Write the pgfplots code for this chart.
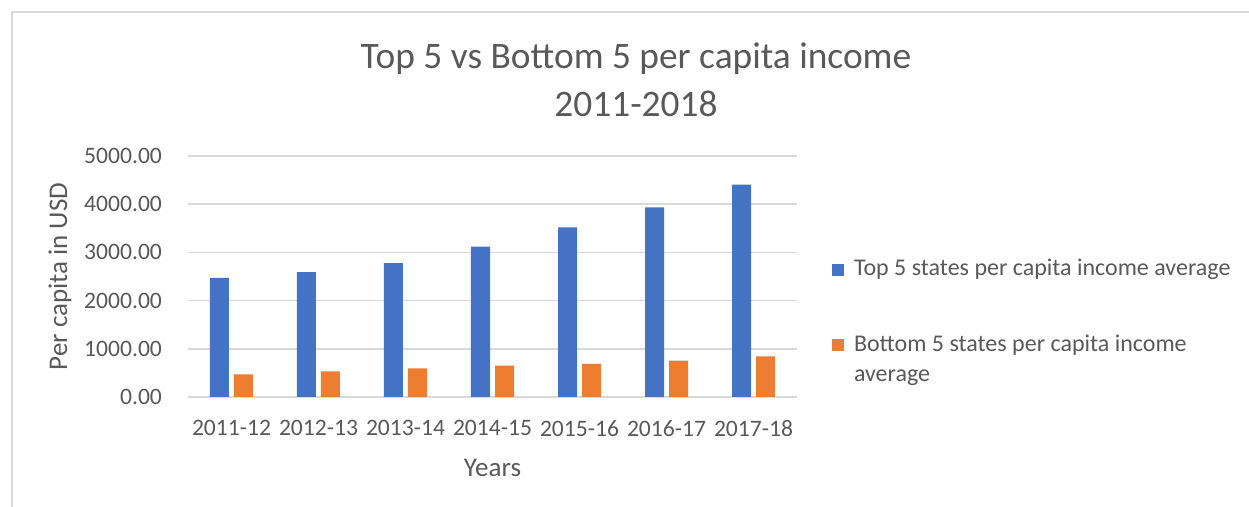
\documentclass[border=0pt]{standalone}
\usepackage{fontspec}
\setmainfont{Carlito}
\usepackage{pgfplots}
\pgfplotsset{compat=1.18}

\definecolor{xblue}{HTML}{4472C4}
\definecolor{xorange}{HTML}{ED7D31}
\definecolor{xtext}{HTML}{595959}
\definecolor{xgrid}{HTML}{D9D9D9}

\begin{document}
\begin{tikzpicture}
% canvas 1249 x 507 px, 1px = 0.5pt
\path[use as bounding box] (0,0) rectangle (624.5pt,-253.5pt);
\draw[xgrid, line width=1pt] (6pt,-253.5pt) -- (6pt,-6pt) -- (624.5pt,-6pt);

\node[text=xtext, font=\fontsize{18.7}{23}\selectfont, align=center] at (318pt,-40pt)
  {Top 5 vs Bottom 5 per capita income\\[1pt]2011-2018};

\begin{axis}[
    at={(94pt,-198.5pt)}, anchor=south west,
    scale only axis,
    width=304.5pt, height=120.5pt,
    ybar=2.5pt, bar width=9.5pt,
    xmin=-0.5, xmax=6.5,
    ymin=0, ymax=5000,
    ytick={0,1000,2000,3000,4000,5000},
    xtick=data,
    xticklabels={2011-12,2012-13,2013-14,2014-15,2015-16,2016-17,2017-18},
    major tick length=0pt,
    axis line style={draw=none},
    ymajorgrids,
    grid style={xgrid, line width=0.75pt},
    /pgf/number format/.cd, fixed, fixed zerofill, precision=2, 1000 sep={}, assume math mode=true,
    /pgfplots/.cd,
    tick label style={text=xtext, font=\fontsize{11.8}{14}\selectfont},
    yticklabel style={xshift=-9.5pt},
    xticklabel style={yshift=-8pt},
    xlabel={Years},
    ylabel={Per capita in USD},
    label style={text=xtext, font=\fontsize{13.5}{16}\selectfont},
    xlabel style={yshift=-4.5pt},
    ylabel style={yshift=-0.5pt},
    legend style={
        at={(axis description cs:1.047,0.607)}, anchor=north west,
        draw=none, fill=none,
        font=\fontsize{12}{15}\selectfont, text=xtext,
        cells={anchor=base west},
        row sep=24pt,
    },
    legend image code/.code={\fill[#1] (0pt,0pt) rectangle (6pt,6pt); \path (9pt,0pt);},
]
\addplot[fill=xblue, draw=none] coordinates {
    (0,2469) (1,2593) (2,2780) (3,3119) (4,3520) (5,3935) (6,4405)
};
\addplot[fill=xorange, draw=none] coordinates {
    (0,470) (1,532) (2,595) (3,650) (4,685) (5,754) (6,844)
};
\legend{Top 5 states per capita income average,
  {\vtop{\hbox{Bottom 5 states per capita income}\hbox{average}}}}
\end{axis}
\end{tikzpicture}
\end{document}
